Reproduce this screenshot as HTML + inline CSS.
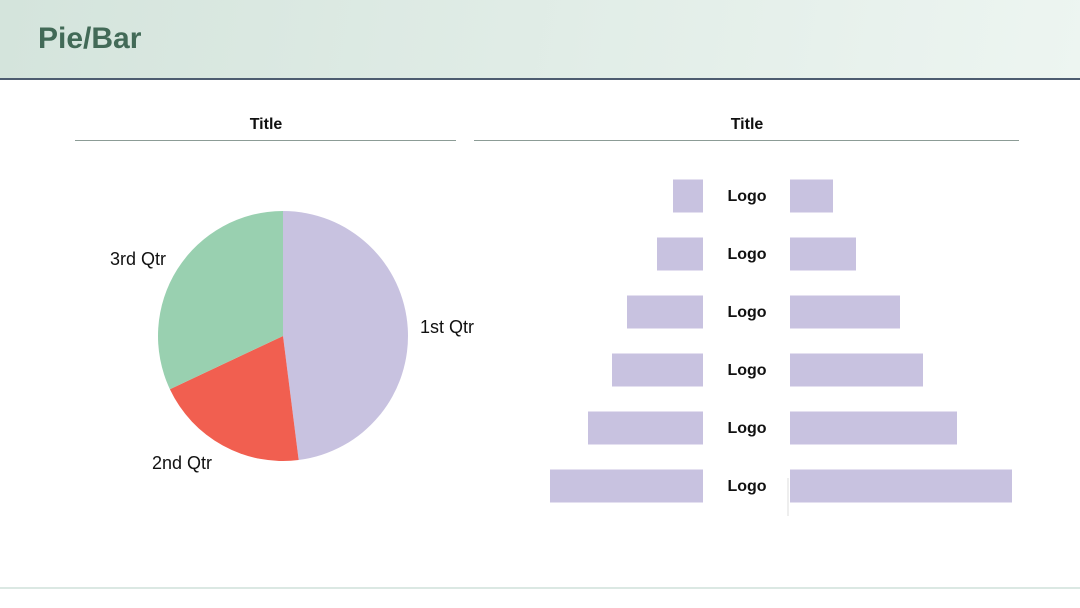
<!DOCTYPE html>
<html><head><meta charset="utf-8"><style>
body{margin:0;width:1080px;height:608px;overflow:hidden;background:#fff;font-family:"Liberation Sans",sans-serif;position:relative}
.hdr{position:absolute;left:0;top:0;width:1080px;height:78px;background:linear-gradient(100deg,#d4e4dc,#edf5f1);border-bottom:2px solid #4d5c70}
.hdr h1{margin:0;position:absolute;left:38px;top:22px;font-size:30px;font-weight:bold;color:#426a57}
.t{position:absolute;top:116px;font-size:16px;font-weight:bold;color:#111;transform:translateX(-50%)}
.ln{position:absolute;top:140px;height:1px;background:#8c9c96}
.foot{position:absolute;left:0;top:587px;width:1080px;height:2px;background:#dbe8e3}
</style></head><body>
<div class="hdr"><h1>Pie/Bar</h1></div>
<div class="t" style="left:266px">Title</div>
<div class="ln" style="left:75px;width:381px"></div>
<div class="t" style="left:747px">Title</div>
<div class="ln" style="left:474px;width:545px"></div>
<div class="foot"></div>
<svg id="s" width="1080" height="608" style="position:absolute;left:0;top:0"></svg>
<script>
const pieLabels=["1st Qtr","2nd Qtr","3rd Qtr"];
const pieValues=[48,20,32];
const pieColors=["#c8c2e0","#f15f50","#99d0b0"];
const barCats=["Logo","Logo","Logo","Logo","Logo","Logo"];
const leftValues=[30,46,76,91,115,153];
const rightValues=[43,66,110,133,167,222];
const NS="http://www.w3.org/2000/svg",s=document.getElementById('s');
function mk(t,a){const e=document.createElementNS(NS,t);for(const k in a)e.setAttribute(k,a[k]);s.appendChild(e);return e;}
const cx=283,cy=336,r=125,tot=pieValues.reduce((a,b)=>a+b,0);
let a0=0;
const labPos=[[447,328],[182,464],[138,260]];
pieValues.forEach((v,i)=>{const a1=a0+v/tot*2*Math.PI;
const p=(a)=>[cx+r*Math.sin(a),cy-r*Math.cos(a)];
const [x0,y0]=p(a0),[x1,y1]=p(a1);
const e=mk('path',{d:`M${cx},${cy}L${x0},${y0}A${r},${r} 0 ${a1-a0>Math.PI?1:0} 1 ${x1},${y1}Z`,fill:pieColors[i]});


const t=mk('text',{x:labPos[i][0],y:labPos[i][1],'font-size':18,fill:'#111','text-anchor':'middle','dominant-baseline':'middle','font-family':'Liberation Sans'});
t.textContent=pieLabels[i];


a0=a1;});
const lx=703,rx=790,y0b=196,step=58,h=33;
barCats.forEach((c,i)=>{const yc=y0b+i*step;
const l=mk('rect',{x:lx-leftValues[i],y:yc-h/2,width:leftValues[i],height:h,fill:'#c8c2e0'});


const rr=mk('rect',{x:rx,y:yc-h/2,width:rightValues[i],height:h,fill:'#c8c2e0'});


const t=mk('text',{x:747,y:yc+1,'font-size':16,'font-weight':'bold',fill:'#111','text-anchor':'middle','dominant-baseline':'middle','font-family':'Liberation Sans'});
t.textContent=c;

});
const ax=mk('line',{x1:788,y1:478,x2:788,y2:516,stroke:'#ddd','stroke-width':1});


</script>
</body></html>
